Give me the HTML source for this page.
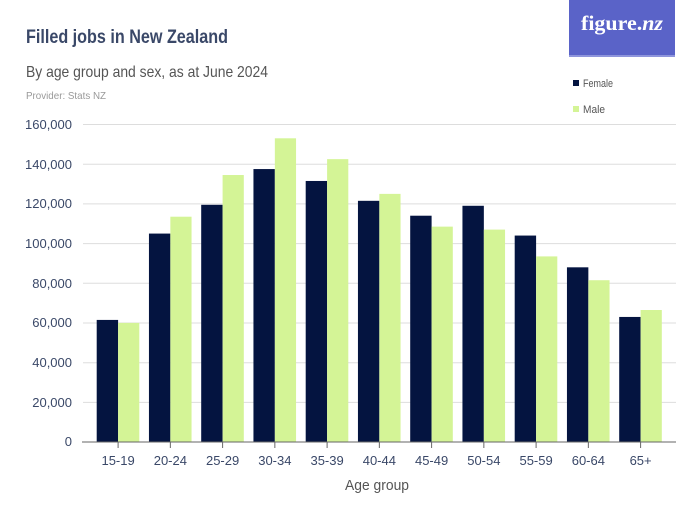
<!DOCTYPE html>
<html><head><meta charset="utf-8"><style>
html,body{margin:0;padding:0;background:#fff;}
svg{display:block;font-family:"Liberation Sans Narrow","Liberation Sans",sans-serif;}
</style></head><body>
<svg width="700" height="525" viewBox="0 0 700 525" xmlns="http://www.w3.org/2000/svg">
<rect x="569" y="0" width="106" height="57" fill="#5a63c8"/>
<rect x="569" y="55" width="106" height="2" fill="#8e95dc"/>
<text x="581" y="30" textLength="82" lengthAdjust="spacingAndGlyphs" font-family="Liberation Serif,serif" font-size="21" font-weight="bold" fill="#fff">figure.<tspan font-style="italic">nz</tspan></text>
<text x="26" y="43" font-size="19" font-weight="bold" fill="#3a4868" textLength="202" lengthAdjust="spacingAndGlyphs">Filled jobs in New Zealand</text>
<text x="26" y="77" font-size="16" fill="#555" textLength="242" lengthAdjust="spacingAndGlyphs">By age group and sex, as at June 2024</text>
<text x="26" y="99" font-size="10.5" fill="#999" textLength="80" lengthAdjust="spacingAndGlyphs">Provider: Stats NZ</text>
<rect x="573" y="80" width="6" height="6" fill="#041440"/>
<text x="583" y="87" font-size="11" fill="#555" textLength="30" lengthAdjust="spacingAndGlyphs">Female</text>
<rect x="573" y="106" width="6" height="6" fill="#d4f496"/>
<text x="583" y="113" font-size="11" fill="#555" textLength="22" lengthAdjust="spacingAndGlyphs">Male</text>
<g stroke="#ddd" stroke-width="1">
<line x1="83" x2="676" y1="124.5" y2="124.5"/>
<line x1="83" x2="676" y1="164.2" y2="164.2"/>
<line x1="83" x2="676" y1="203.9" y2="203.9"/>
<line x1="83" x2="676" y1="243.6" y2="243.6"/>
<line x1="83" x2="676" y1="283.3" y2="283.3"/>
<line x1="83" x2="676" y1="323" y2="323"/>
<line x1="83" x2="676" y1="362.7" y2="362.7"/>
<line x1="83" x2="676" y1="402.4" y2="402.4"/>
</g>
<g font-size="13" fill="#3a4868" text-anchor="end">
<text x="72" y="129">160,000</text>
<text x="72" y="169">140,000</text>
<text x="72" y="208">120,000</text>
<text x="72" y="248">100,000</text>
<text x="72" y="288">80,000</text>
<text x="72" y="327">60,000</text>
<text x="72" y="367">40,000</text>
<text x="72" y="407">20,000</text>
<text x="72" y="446">0</text>
</g>
<g id="bars"></g>
<line x1="82" x2="676" y1="442" y2="442" stroke="#666" stroke-width="1"/>
<g id="ticks"></g>
<text x="345" y="490" font-size="15" fill="#555" textLength="64" lengthAdjust="spacingAndGlyphs">Age group</text>
<script>
var f=[61500,105000,119500,137500,131500,121500,114000,119000,104000,88000,63000];
var m=[60000,113500,134500,153000,142500,125000,108500,107000,93500,81500,66500];
var l=["15-19","20-24","25-29","30-34","35-39","40-44","45-49","50-54","55-59","60-64","65+"];
var ns="http://www.w3.org/2000/svg",b=document.getElementById("bars"),t=document.getElementById("ticks");
function el(p,n,a,tx){var e=document.createElementNS(ns,n);for(var k in a)e.setAttribute(k,a[k]);if(tx)e.textContent=tx;p.appendChild(e);}
for(var i=0;i<11;i++){var x=96.7+52.25*i;
var hf=f[i]*317.6/160000,hm=m[i]*317.6/160000;
el(b,"rect",{x:x,y:442-hf,width:21.4,height:hf,fill:"#041440"});
el(b,"rect",{x:x+21.4,y:442-hm,width:21.2,height:hm,fill:"#d4f496"});
el(t,"line",{x1:x+21.4,x2:x+21.4,y1:442,y2:448,stroke:"#666"});
el(t,"text",{x:x+21.4,y:465,"font-size":"13",fill:"#3a4868","text-anchor":"middle"},l[i]);}
</script>
</svg>
</body></html>
